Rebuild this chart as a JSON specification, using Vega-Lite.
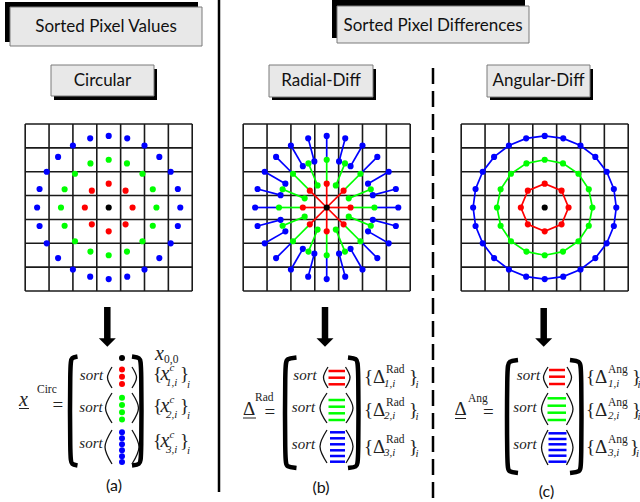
{
"$schema":"https://vega.github.io/schema/vega-lite/v6.json",
"width":640,"height":502,"autosize":{"type":"none"},"padding":0,"background":"#ffffff",
"config":{"view":{"stroke":null},"axis":{"disable":true},"legend":{"disable":true}},
"datasets":{
"grid":[
{"dx":-3.5,"dy":-3.5,"dx2":-3.5,"dy2":3.5},{"dx":-2.5,"dy":-3.5,"dx2":-2.5,"dy2":3.5},{"dx":-1.5,"dy":-3.5,"dx2":-1.5,"dy2":3.5},{"dx":-0.5,"dy":-3.5,"dx2":-0.5,"dy2":3.5},
{"dx":0.5,"dy":-3.5,"dx2":0.5,"dy2":3.5},{"dx":1.5,"dy":-3.5,"dx2":1.5,"dy2":3.5},{"dx":2.5,"dy":-3.5,"dx2":2.5,"dy2":3.5},{"dx":3.5,"dy":-3.5,"dx2":3.5,"dy2":3.5},
{"dx":-3.5,"dy":-3.5,"dx2":3.5,"dy2":-3.5},{"dx":-3.5,"dy":-2.5,"dx2":3.5,"dy2":-2.5},{"dx":-3.5,"dy":-1.5,"dx2":3.5,"dy2":-1.5},{"dx":-3.5,"dy":-0.5,"dx2":3.5,"dy2":-0.5},
{"dx":-3.5,"dy":0.5,"dx2":3.5,"dy2":0.5},{"dx":-3.5,"dy":1.5,"dx2":3.5,"dy2":1.5},{"dx":-3.5,"dy":2.5,"dx2":3.5,"dy2":2.5},{"dx":-3.5,"dy":3.5,"dx2":3.5,"dy2":3.5}
],
"pts":[
{"ring":0,"a":0,"dx":0,"dy":0},
{"ring":1,"a":0,"dx":1,"dy":0},{"ring":1,"a":45,"dx":0.7071,"dy":0.7071},{"ring":1,"a":90,"dx":0,"dy":1},{"ring":1,"a":135,"dx":-0.7071,"dy":0.7071},
{"ring":1,"a":180,"dx":-1,"dy":0},{"ring":1,"a":225,"dx":-0.7071,"dy":-0.7071},{"ring":1,"a":270,"dx":0,"dy":-1},{"ring":1,"a":315,"dx":0.7071,"dy":-0.7071},
{"ring":2,"a":0,"dx":2,"dy":0},{"ring":2,"a":22.5,"dx":1.8478,"dy":0.7654},{"ring":2,"a":45,"dx":1.4142,"dy":1.4142},{"ring":2,"a":67.5,"dx":0.7654,"dy":1.8478},
{"ring":2,"a":90,"dx":0,"dy":2},{"ring":2,"a":112.5,"dx":-0.7654,"dy":1.8478},{"ring":2,"a":135,"dx":-1.4142,"dy":1.4142},{"ring":2,"a":157.5,"dx":-1.8478,"dy":0.7654},
{"ring":2,"a":180,"dx":-2,"dy":0},{"ring":2,"a":202.5,"dx":-1.8478,"dy":-0.7654},{"ring":2,"a":225,"dx":-1.4142,"dy":-1.4142},{"ring":2,"a":247.5,"dx":-0.7654,"dy":-1.8478},
{"ring":2,"a":270,"dx":0,"dy":-2},{"ring":2,"a":292.5,"dx":0.7654,"dy":-1.8478},{"ring":2,"a":315,"dx":1.4142,"dy":-1.4142},{"ring":2,"a":337.5,"dx":1.8478,"dy":-0.7654},
{"ring":3,"a":0,"dx":3,"dy":0},{"ring":3,"a":15,"dx":2.8978,"dy":0.7765},{"ring":3,"a":30,"dx":2.5981,"dy":1.5},{"ring":3,"a":45,"dx":2.1213,"dy":2.1213},
{"ring":3,"a":60,"dx":1.5,"dy":2.5981},{"ring":3,"a":75,"dx":0.7765,"dy":2.8978},{"ring":3,"a":90,"dx":0,"dy":3},{"ring":3,"a":105,"dx":-0.7765,"dy":2.8978},
{"ring":3,"a":120,"dx":-1.5,"dy":2.5981},{"ring":3,"a":135,"dx":-2.1213,"dy":2.1213},{"ring":3,"a":150,"dx":-2.5981,"dy":1.5},{"ring":3,"a":165,"dx":-2.8978,"dy":0.7765},
{"ring":3,"a":180,"dx":-3,"dy":0},{"ring":3,"a":195,"dx":-2.8978,"dy":-0.7765},{"ring":3,"a":210,"dx":-2.5981,"dy":-1.5},{"ring":3,"a":225,"dx":-2.1213,"dy":-2.1213},
{"ring":3,"a":240,"dx":-1.5,"dy":-2.5981},{"ring":3,"a":255,"dx":-0.7765,"dy":-2.8978},{"ring":3,"a":270,"dx":0,"dy":-3},{"ring":3,"a":285,"dx":0.7765,"dy":-2.8978},
{"ring":3,"a":300,"dx":1.5,"dy":-2.5981},{"ring":3,"a":315,"dx":2.1213,"dy":-2.1213},{"ring":3,"a":330,"dx":2.5981,"dy":-1.5},{"ring":3,"a":345,"dx":2.8978,"dy":-0.7765}
],
"segs":[
{"ring":1,"dx":0,"dy":0,"dx2":1,"dy2":0},{"ring":1,"dx":0,"dy":0,"dx2":0.7071,"dy2":0.7071},{"ring":1,"dx":0,"dy":0,"dx2":0,"dy2":1},{"ring":1,"dx":0,"dy":0,"dx2":-0.7071,"dy2":0.7071},
{"ring":1,"dx":0,"dy":0,"dx2":-1,"dy2":0},{"ring":1,"dx":0,"dy":0,"dx2":-0.7071,"dy2":-0.7071},{"ring":1,"dx":0,"dy":0,"dx2":0,"dy2":-1},{"ring":1,"dx":0,"dy":0,"dx2":0.7071,"dy2":-0.7071},
{"ring":2,"dx":1,"dy":0,"dx2":2,"dy2":0},{"ring":2,"dx":0.9239,"dy":0.3827,"dx2":1.8478,"dy2":0.7654},{"ring":2,"dx":0.7071,"dy":0.7071,"dx2":1.4142,"dy2":1.4142},{"ring":2,"dx":0.3827,"dy":0.9239,"dx2":0.7654,"dy2":1.8478},
{"ring":2,"dx":0,"dy":1,"dx2":0,"dy2":2},{"ring":2,"dx":-0.3827,"dy":0.9239,"dx2":-0.7654,"dy2":1.8478},{"ring":2,"dx":-0.7071,"dy":0.7071,"dx2":-1.4142,"dy2":1.4142},{"ring":2,"dx":-0.9239,"dy":0.3827,"dx2":-1.8478,"dy2":0.7654},
{"ring":2,"dx":-1,"dy":0,"dx2":-2,"dy2":0},{"ring":2,"dx":-0.9239,"dy":-0.3827,"dx2":-1.8478,"dy2":-0.7654},{"ring":2,"dx":-0.7071,"dy":-0.7071,"dx2":-1.4142,"dy2":-1.4142},{"ring":2,"dx":-0.3827,"dy":-0.9239,"dx2":-0.7654,"dy2":-1.8478},
{"ring":2,"dx":0,"dy":-1,"dx2":0,"dy2":-2},{"ring":2,"dx":0.3827,"dy":-0.9239,"dx2":0.7654,"dy2":-1.8478},{"ring":2,"dx":0.7071,"dy":-0.7071,"dx2":1.4142,"dy2":-1.4142},{"ring":2,"dx":0.9239,"dy":-0.3827,"dx2":1.8478,"dy2":-0.7654},
{"ring":3,"dx":2,"dy":0,"dx2":3,"dy2":0},{"ring":3,"dx":1.9319,"dy":0.5176,"dx2":2.8978,"dy2":0.7765},{"ring":3,"dx":1.7321,"dy":1,"dx2":2.5981,"dy2":1.5},{"ring":3,"dx":1.4142,"dy":1.4142,"dx2":2.1213,"dy2":2.1213},
{"ring":3,"dx":1,"dy":1.7321,"dx2":1.5,"dy2":2.5981},{"ring":3,"dx":0.5176,"dy":1.9319,"dx2":0.7765,"dy2":2.8978},{"ring":3,"dx":0,"dy":2,"dx2":0,"dy2":3},{"ring":3,"dx":-0.5176,"dy":1.9319,"dx2":-0.7765,"dy2":2.8978},
{"ring":3,"dx":-1,"dy":1.7321,"dx2":-1.5,"dy2":2.5981},{"ring":3,"dx":-1.4142,"dy":1.4142,"dx2":-2.1213,"dy2":2.1213},{"ring":3,"dx":-1.7321,"dy":1,"dx2":-2.5981,"dy2":1.5},{"ring":3,"dx":-1.9319,"dy":0.5176,"dx2":-2.8978,"dy2":0.7765},
{"ring":3,"dx":-2,"dy":0,"dx2":-3,"dy2":0},{"ring":3,"dx":-1.9319,"dy":-0.5176,"dx2":-2.8978,"dy2":-0.7765},{"ring":3,"dx":-1.7321,"dy":-1,"dx2":-2.5981,"dy2":-1.5},{"ring":3,"dx":-1.4142,"dy":-1.4142,"dx2":-2.1213,"dy2":-2.1213},
{"ring":3,"dx":-1,"dy":-1.7321,"dx2":-1.5,"dy2":-2.5981},{"ring":3,"dx":-0.5176,"dy":-1.9319,"dx2":-0.7765,"dy2":-2.8978},{"ring":3,"dx":0,"dy":-2,"dx2":0,"dy2":-3},{"ring":3,"dx":0.5176,"dy":-1.9319,"dx2":0.7765,"dy2":-2.8978},
{"ring":3,"dx":1,"dy":-1.7321,"dx2":1.5,"dy2":-2.5981},{"ring":3,"dx":1.4142,"dy":-1.4142,"dx2":2.1213,"dy2":-2.1213},{"ring":3,"dx":1.7321,"dy":-1,"dx2":2.5981,"dy2":-1.5},{"ring":3,"dx":1.9319,"dy":-0.5176,"dx2":2.8978,"dy2":-0.7765}
],
"inner":[
{"ring":2,"dx":0.9239,"dy":0.3827},{"ring":2,"dx":0.3827,"dy":0.9239},{"ring":2,"dx":-0.3827,"dy":0.9239},{"ring":2,"dx":-0.9239,"dy":0.3827},
{"ring":2,"dx":-0.9239,"dy":-0.3827},{"ring":2,"dx":-0.3827,"dy":-0.9239},{"ring":2,"dx":0.3827,"dy":-0.9239},{"ring":2,"dx":0.9239,"dy":-0.3827},
{"ring":3,"dx":1.9319,"dy":0.5176},{"ring":3,"dx":1.7321,"dy":1},{"ring":3,"dx":1,"dy":1.7321},{"ring":3,"dx":0.5176,"dy":1.9319},
{"ring":3,"dx":-0.5176,"dy":1.9319},{"ring":3,"dx":-1,"dy":1.7321},{"ring":3,"dx":-1.7321,"dy":1},{"ring":3,"dx":-1.9319,"dy":0.5176},
{"ring":3,"dx":-1.9319,"dy":-0.5176},{"ring":3,"dx":-1.7321,"dy":-1},{"ring":3,"dx":-1,"dy":-1.7321},{"ring":3,"dx":-0.5176,"dy":-1.9319},
{"ring":3,"dx":0.5176,"dy":-1.9319},{"ring":3,"dx":1,"dy":-1.7321},{"ring":3,"dx":1.7321,"dy":-1},{"ring":3,"dx":1.9319,"dy":-0.5176}
],
"shadows":[{"x":5,"x2":198,"y":2,"y2":42},{"x":332,"x2":525,"y":0,"y2":38},{"x":54,"x2":157,"y":69,"y2":100},{"x":272,"x2":376,"y":69,"y2":100},{"x":490,"x2":593,"y":69,"y2":100}],
"boxes":[{"x":10,"x2":202,"y":7,"y2":46},{"x":337,"x2":529,"y":6,"y2":43},{"x":51,"x2":154,"y":65,"y2":96},{"x":269,"x2":373,"y":65,"y2":97},{"x":487,"x2":590,"y":65,"y2":97}],
"titles":[{"x":106,"y":32,"t":"Sorted Pixel Values"},{"x":433,"y":31,"t":"Sorted Pixel Differences"},{"x":102.5,"y":86,"t":"Circular"},{"x":321,"y":86,"t":"Radial-Diff"},{"x":538.5,"y":86,"t":"Angular-Diff"}],
"sep":[{"x":219,"y":0,"y2":492}],
"dash":[{"x":433,"y":68,"y2":502}],
"shafts":[{"x":107.3,"y":307,"y2":340},{"x":325,"y":307,"y2":340},{"x":543.7,"y":308,"y2":340}],
"heads":[{"x":107.3,"y":342.5},{"x":325,"y":342.5},{"x":543.7,"y":342.5}],
"brk":[
{"id":"aL","o":1,"x":77.5,"y":356.5},{"id":"aL","o":2,"x":71.5,"y":357.5},{"id":"aL","o":3,"x":70,"y":363},{"id":"aL","o":4,"x":70,"y":459},{"id":"aL","o":5,"x":71.5,"y":464.5},{"id":"aL","o":6,"x":77.5,"y":465.5},
{"id":"aR","o":1,"x":132,"y":356.5},{"id":"aR","o":2,"x":140,"y":357.5},{"id":"aR","o":3,"x":141.5,"y":363},{"id":"aR","o":4,"x":141.5,"y":459},{"id":"aR","o":5,"x":140,"y":464.5},{"id":"aR","o":6,"x":132,"y":465.5},
{"id":"bL","o":1,"x":296.5,"y":357.5},{"id":"bL","o":2,"x":286.5,"y":358.5},{"id":"bL","o":3,"x":285,"y":364},{"id":"bL","o":4,"x":285,"y":462},{"id":"bL","o":5,"x":286.5,"y":467},{"id":"bL","o":6,"x":296.5,"y":468},
{"id":"bR","o":1,"x":348,"y":357.5},{"id":"bR","o":2,"x":357,"y":358.5},{"id":"bR","o":3,"x":358.5,"y":364},{"id":"bR","o":4,"x":358.5,"y":462},{"id":"bR","o":5,"x":357,"y":467},{"id":"bR","o":6,"x":348,"y":468},
{"id":"cL","o":1,"x":518,"y":360},{"id":"cL","o":2,"x":508.5,"y":361},{"id":"cL","o":3,"x":507,"y":367},{"id":"cL","o":4,"x":507,"y":467},{"id":"cL","o":5,"x":508.5,"y":472},{"id":"cL","o":6,"x":518,"y":473},
{"id":"cR","o":1,"x":570,"y":360},{"id":"cR","o":2,"x":580,"y":361},{"id":"cR","o":3,"x":581.5,"y":367},{"id":"cR","o":4,"x":581.5,"y":467},{"id":"cR","o":5,"x":580,"y":472},{"id":"cR","o":6,"x":570,"y":473}
],
"par":[
{"id":"a1L","o":1,"x":112,"y":367},{"id":"a1L","o":2,"x":107.5,"y":377.5},{"id":"a1L","o":3,"x":112,"y":388},
{"id":"a1R","o":1,"x":132,"y":367},{"id":"a1R","o":2,"x":136.5,"y":377.5},{"id":"a1R","o":3,"x":132,"y":388},
{"id":"a2L","o":1,"x":112,"y":393},{"id":"a2L","o":2,"x":105.5,"y":408},{"id":"a2L","o":3,"x":112,"y":423},
{"id":"a2R","o":1,"x":132,"y":393},{"id":"a2R","o":2,"x":138.5,"y":408},{"id":"a2R","o":3,"x":132,"y":423},
{"id":"a3L","o":1,"x":112,"y":430},{"id":"a3L","o":2,"x":105,"y":447},{"id":"a3L","o":3,"x":112,"y":464},
{"id":"a3R","o":1,"x":132,"y":430},{"id":"a3R","o":2,"x":139,"y":447},{"id":"a3R","o":3,"x":132,"y":464},
{"id":"b1L","o":1,"x":328,"y":367},{"id":"b1L","o":2,"x":323.5,"y":377.5},{"id":"b1L","o":3,"x":328,"y":388},
{"id":"b1R","o":1,"x":345.5,"y":367},{"id":"b1R","o":2,"x":350,"y":377.5},{"id":"b1R","o":3,"x":345.5,"y":388},
{"id":"b2L","o":1,"x":327,"y":393},{"id":"b2L","o":2,"x":320,"y":408},{"id":"b2L","o":3,"x":327,"y":423},
{"id":"b2R","o":1,"x":346,"y":393},{"id":"b2R","o":2,"x":353,"y":408},{"id":"b2R","o":3,"x":346,"y":423},
{"id":"b3L","o":1,"x":327,"y":430},{"id":"b3L","o":2,"x":320,"y":446.5},{"id":"b3L","o":3,"x":327,"y":463},
{"id":"b3R","o":1,"x":346,"y":430},{"id":"b3R","o":2,"x":353,"y":446.5},{"id":"b3R","o":3,"x":346,"y":463},
{"id":"c1L","o":1,"x":548,"y":367},{"id":"c1L","o":2,"x":543.5,"y":377.5},{"id":"c1L","o":3,"x":548,"y":388},
{"id":"c1R","o":1,"x":567,"y":367},{"id":"c1R","o":2,"x":571.5,"y":377.5},{"id":"c1R","o":3,"x":567,"y":388},
{"id":"c2L","o":1,"x":548,"y":393},{"id":"c2L","o":2,"x":541.5,"y":409},{"id":"c2L","o":3,"x":548,"y":425},
{"id":"c2R","o":1,"x":566.5,"y":393},{"id":"c2R","o":2,"x":573,"y":409},{"id":"c2R","o":3,"x":566.5,"y":425},
{"id":"c3L","o":1,"x":548,"y":430},{"id":"c3L","o":2,"x":541.5,"y":447.5},{"id":"c3L","o":3,"x":548,"y":465},
{"id":"c3R","o":1,"x":566.5,"y":430},{"id":"c3R","o":2,"x":573,"y":447.5},{"id":"c3R","o":3,"x":566.5,"y":465}
],
"fdots":[
{"x":122,"y":358,"ring":0},
{"x":122,"y":369.5,"ring":1},{"x":122,"y":376.8,"ring":1},{"x":122,"y":384,"ring":1},
{"x":122,"y":397.7,"ring":2},{"x":122,"y":405,"ring":2},{"x":122,"y":412.3,"ring":2},{"x":122,"y":419.5,"ring":2},
{"x":122,"y":432.3,"ring":3},{"x":122,"y":438.3,"ring":3},{"x":122,"y":444.3,"ring":3},{"x":122,"y":450.3,"ring":3},{"x":122,"y":456.3,"ring":3},{"x":122,"y":462,"ring":3}
],
"fbars":[
{"x":328.5,"x2":345,"y":371,"ring":1},{"x":328.5,"x2":345,"y":377.7,"ring":1},{"x":328.5,"x2":345,"y":384.3,"ring":1},
{"x":328.5,"x2":345,"y":400,"ring":2},{"x":328.5,"x2":345,"y":406.7,"ring":2},{"x":328.5,"x2":345,"y":413.3,"ring":2},{"x":328.5,"x2":345,"y":420,"ring":2},
{"x":330,"x2":345,"y":432.3,"ring":3},{"x":330,"x2":345,"y":438.3,"ring":3},{"x":330,"x2":345,"y":444.3,"ring":3},{"x":330,"x2":345,"y":450.3,"ring":3},{"x":330,"x2":345,"y":456,"ring":3},{"x":330,"x2":345,"y":461.7,"ring":3},
{"x":549,"x2":565,"y":370,"ring":1},{"x":549,"x2":565,"y":376.7,"ring":1},{"x":549,"x2":565,"y":384,"ring":1},
{"x":547.5,"x2":566,"y":398.3,"ring":2},{"x":547.5,"x2":566,"y":405.7,"ring":2},{"x":547.5,"x2":566,"y":412.7,"ring":2},{"x":547.5,"x2":566,"y":420,"ring":2},
{"x":548.5,"x2":566.5,"y":433.3,"ring":3},{"x":548.5,"x2":566.5,"y":439,"ring":3},{"x":548.5,"x2":566.5,"y":444.3,"ring":3},{"x":548.5,"x2":566.5,"y":450,"ring":3},{"x":548.5,"x2":566.5,"y":455.7,"ring":3},{"x":548.5,"x2":566.5,"y":461.7,"ring":3}
],
"sortt":[{"x":91.5,"y":380,"t":"sort"},{"x":91,"y":412,"t":"sort"},{"x":91,"y":448,"t":"sort"},{"x":305,"y":380,"t":"sort"},{"x":303.5,"y":411.5,"t":"sort"},{"x":303.5,"y":449,"t":"sort"},{"x":528.5,"y":380,"t":"sort"},{"x":525,"y":411.7,"t":"sort"},{"x":525,"y":449,"t":"sort"}],
"itbig":[{"x":19,"y":406,"t":"x"},{"x":155,"y":360,"t":"x"},{"x":160.5,"y":380,"t":"x"},{"x":160.5,"y":412,"t":"x"},{"x":160.5,"y":447,"t":"x"}],
"upbig":[
{"x":52.5,"y":411,"t":"="},{"x":264.5,"y":418,"t":"="},{"x":483,"y":418,"t":"="},
{"x":243,"y":415,"t":"Δ"},{"x":454.5,"y":415,"t":"Δ"},
{"x":153,"y":380,"t":"{"},{"x":153,"y":412,"t":"{"},{"x":153,"y":447,"t":"{"},
{"x":180,"y":380,"t":"}"},{"x":180,"y":412,"t":"}"},{"x":180,"y":447,"t":"}"},
{"x":364,"y":383,"t":"{Δ"},{"x":364,"y":415.5,"t":"{Δ"},{"x":364,"y":452.5,"t":"{Δ"},
{"x":409,"y":383,"t":"}"},{"x":409,"y":415.5,"t":"}"},{"x":409,"y":452.5,"t":"}"},
{"x":586,"y":383,"t":"{Δ"},{"x":586,"y":415.5,"t":"{Δ"},{"x":586,"y":452.5,"t":"{Δ"},
{"x":632,"y":383,"t":"}"},{"x":632,"y":415.5,"t":"}"},{"x":630,"y":452.5,"t":"}"}
],
"upsmall":[
{"x":37,"y":393,"t":"Circ"},{"x":255,"y":401,"t":"Rad"},{"x":468,"y":402,"t":"Ang"},{"x":164,"y":363,"t":"0,0"},
{"x":386,"y":373,"t":"Rad"},{"x":386,"y":405.5,"t":"Rad"},{"x":386,"y":442.5,"t":"Rad"},
{"x":608,"y":373,"t":"Ang"},{"x":608,"y":405.5,"t":"Ang"},{"x":608,"y":442.5,"t":"Ang"}
],
"itsmall":[
{"x":169.5,"y":371,"t":"c"},{"x":169.5,"y":403,"t":"c"},{"x":169.5,"y":438,"t":"c"},
{"x":166,"y":386,"t":"1,i"},{"x":166,"y":418,"t":"2,i"},{"x":166,"y":453,"t":"3,i"},
{"x":187,"y":387.5,"t":"i"},{"x":187,"y":419,"t":"i"},{"x":187,"y":454,"t":"i"},
{"x":384,"y":386.5,"t":"1,i"},{"x":384,"y":419,"t":"2,i"},{"x":384,"y":456,"t":"3,i"},
{"x":415.5,"y":388,"t":"i"},{"x":415.5,"y":420,"t":"i"},{"x":415.5,"y":457,"t":"i"},
{"x":608,"y":386.5,"t":"1,i"},{"x":608,"y":419,"t":"2,i"},{"x":608,"y":456,"t":"3,i"},
{"x":637.5,"y":388,"t":"i"},{"x":637.5,"y":420,"t":"i"},{"x":636,"y":457,"t":"i"}
],
"sans":[{"x":114,"y":491,"t":"(a)"},{"x":321,"y":493,"t":"(b)"},{"x":546.5,"y":497,"t":"(c)"}],
"ul":[{"x":19,"x2":29,"y":408.5},{"x":243,"x2":256,"y":418},{"x":455,"x2":466,"y":418.5}]
},
"layer":[
{
"encoding":{
"x":{"field":"x","type":"quantitative","scale":{"domain":[0,640],"nice":false,"zero":false}},
"y":{"field":"y","type":"quantitative","scale":{"domain":[0,502],"nice":false,"zero":false,"reverse":true}}
},
"layer":[
{"data":{"name":"shadows"},"mark":{"type":"rect","fill":"#000000","stroke":null},"encoding":{"x2":{"field":"x2"},"y2":{"field":"y2"}}},
{"data":{"name":"boxes"},"mark":{"type":"rect","fill":"#e8e8e8","stroke":"#7a7a7a","strokeWidth":1},"encoding":{"x2":{"field":"x2"},"y2":{"field":"y2"}}},
{"data":{"name":"titles"},"mark":{"type":"text","font":"Lato","fontSize":17,"align":"center","baseline":"alphabetic","color":"#111111"},"encoding":{"text":{"field":"t"}}},
{"data":{"name":"sep"},"mark":{"type":"rule","stroke":"#000000","strokeWidth":2.5},"encoding":{"y2":{"field":"y2"}}},
{"data":{"name":"dash"},"mark":{"type":"rule","stroke":"#000000","strokeWidth":2.5,"strokeDash":[16,7]},"encoding":{"y2":{"field":"y2"}}},
{"data":{"name":"shafts"},"mark":{"type":"rule","stroke":"#000000","strokeWidth":6.5},"encoding":{"y2":{"field":"y2"}}},
{"data":{"name":"heads"},"mark":{"type":"point","shape":"M-1,-0.5L1,-0.5L0,0.5Z","size":289,"filled":true,"fill":"#000000","stroke":null,"opacity":1},"encoding":{}},
{"data":{"name":"brk"},"mark":{"type":"line","stroke":"#000000","strokeWidth":4.5,"interpolate":"basis","strokeCap":"butt"},"encoding":{"detail":{"field":"id"},"order":{"field":"o","type":"quantitative"}}},
{"data":{"name":"par"},"mark":{"type":"line","stroke":"#111111","strokeWidth":1.3,"interpolate":"cardinal"},"encoding":{"detail":{"field":"id"},"order":{"field":"o","type":"quantitative"}}},
{"data":{"name":"fdots"},"mark":{"type":"circle","size":36,"opacity":1},"encoding":{"color":{"field":"ring","type":"nominal","scale":{"domain":[0,1,2,3],"range":["#000000","#ff0000","#00ff00","#0000ff"]},"legend":null}}},
{"data":{"name":"fbars"},"mark":{"type":"rule","strokeWidth":2.5},"encoding":{"x2":{"field":"x2"},"color":{"field":"ring","type":"nominal","scale":{"domain":[0,1,2,3],"range":["#000000","#ff0000","#00ff00","#0000ff"]},"legend":null}}},
{"data":{"name":"sortt"},"mark":{"type":"text","font":"'Liberation Serif', 'Times New Roman', serif","fontStyle":"italic","fontSize":15,"align":"center","baseline":"alphabetic","color":"#222222"},"encoding":{"text":{"field":"t"}}},
{"data":{"name":"itbig"},"mark":{"type":"text","font":"'Liberation Serif', 'Times New Roman', serif","fontStyle":"italic","fontSize":20,"align":"left","baseline":"alphabetic","color":"#222222"},"encoding":{"text":{"field":"t"}}},
{"data":{"name":"upbig"},"mark":{"type":"text","font":"'Liberation Serif', 'Times New Roman', serif","fontSize":19,"align":"left","baseline":"alphabetic","color":"#222222"},"encoding":{"text":{"field":"t"}}},
{"data":{"name":"upsmall"},"mark":{"type":"text","font":"'Liberation Serif', 'Times New Roman', serif","fontSize":11.5,"align":"left","baseline":"alphabetic","color":"#222222"},"encoding":{"text":{"field":"t"}}},
{"data":{"name":"itsmall"},"mark":{"type":"text","font":"'Liberation Serif', 'Times New Roman', serif","fontStyle":"italic","fontSize":11,"align":"left","baseline":"alphabetic","color":"#222222"},"encoding":{"text":{"field":"t"}}},
{"data":{"name":"sans"},"mark":{"type":"text","font":"Lato","fontSize":16,"align":"center","baseline":"alphabetic","color":"#111111"},"encoding":{"text":{"field":"t"}}},
{"data":{"name":"ul"},"mark":{"type":"rule","stroke":"#222222","strokeWidth":1},"encoding":{"x2":{"field":"x2"}}}
]
},
{
"encoding":{
"x":{"field":"dx","type":"quantitative","scale":{"domain":[-4.5558,22.267],"nice":false,"zero":false}},
"y":{"field":"dy","type":"quantitative","scale":{"domain":[-8.6965,12.3425],"nice":false,"zero":false,"reverse":true}}
},
"layer":[
{"data":{"name":"grid"},"mark":{"type":"rule","stroke":"#1a1a1a","strokeWidth":1.6},"encoding":{"x2":{"field":"dx2"},"y2":{"field":"dy2"}}},
{"data":{"name":"pts"},"mark":{"type":"circle","size":38,"opacity":1},"encoding":{"color":{"field":"ring","type":"nominal","scale":{"domain":[0,1,2,3],"range":["#000000","#ff0000","#00ff00","#0000ff"]},"legend":null}}}
]
},
{
"encoding":{
"x":{"field":"dx","type":"quantitative","scale":{"domain":[-13.6924,13.1306],"nice":false,"zero":false}},
"y":{"field":"dy","type":"quantitative","scale":{"domain":[-8.6965,12.3425],"nice":false,"zero":false,"reverse":true}}
},
"layer":[
{"data":{"name":"grid"},"mark":{"type":"rule","stroke":"#1a1a1a","strokeWidth":1.6},"encoding":{"x2":{"field":"dx2"},"y2":{"field":"dy2"}}},
{"data":{"name":"segs"},"mark":{"type":"rule","strokeWidth":1.7},"encoding":{"x2":{"field":"dx2"},"y2":{"field":"dy2"},"color":{"field":"ring","type":"nominal","scale":{"domain":[0,1,2,3],"range":["#000000","#ff0000","#00ff00","#0000ff"]},"legend":null}}},
{"data":{"name":"inner"},"mark":{"type":"circle","size":38,"opacity":1},"encoding":{"color":{"field":"ring","type":"nominal","scale":{"domain":[0,1,2,3],"range":["#000000","#ff0000","#00ff00","#0000ff"]},"legend":null}}},
{"data":{"name":"pts"},"mark":{"type":"circle","size":38,"opacity":1},"encoding":{"color":{"field":"ring","type":"nominal","scale":{"domain":[0,1,2,3],"range":["#000000","#ff0000","#00ff00","#0000ff"]},"legend":null}}}
]
},
{
"encoding":{
"x":{"field":"dx","type":"quantitative","scale":{"domain":[-22.829,3.994],"nice":false,"zero":false}},
"y":{"field":"dy","type":"quantitative","scale":{"domain":[-8.6965,12.3425],"nice":false,"zero":false,"reverse":true}}
},
"layer":[
{"data":{"name":"grid"},"mark":{"type":"rule","stroke":"#1a1a1a","strokeWidth":1.6},"encoding":{"x2":{"field":"dx2"},"y2":{"field":"dy2"}}},
{"data":{"name":"pts"},"transform":[{"filter":"datum.ring > 0"}],"mark":{"type":"line","strokeWidth":1.7,"interpolate":"linear-closed"},"encoding":{"order":{"field":"a","type":"quantitative"},"color":{"field":"ring","type":"nominal","scale":{"domain":[0,1,2,3],"range":["#000000","#ff0000","#00ff00","#0000ff"]},"legend":null}}},
{"data":{"name":"pts"},"mark":{"type":"circle","size":38,"opacity":1},"encoding":{"color":{"field":"ring","type":"nominal","scale":{"domain":[0,1,2,3],"range":["#000000","#ff0000","#00ff00","#0000ff"]},"legend":null}}}
]
}
],
"resolve":{"scale":{"x":"independent","y":"independent"}}
}
